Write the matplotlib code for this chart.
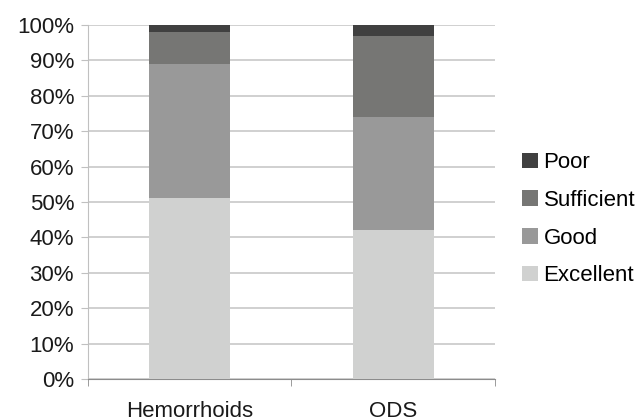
import matplotlib
matplotlib.use("Agg")
import matplotlib.pyplot as plt
from matplotlib.patches import Patch

categories = ["Hemorrhoids", "ODS"]
series_names = ["Excellent", "Good", "Sufficient", "Poor"]
excellent = [51, 42]
good = [38, 32]
sufficient = [9, 23]
poor = [2, 3]
y_ticks = [0, 10, 20, 30, 40, 50, 60, 70, 80, 90, 100]
colors = ["#d0d1d0", "#999999", "#767674", "#404040"]

plt.rcParams['font.family'] = ['Liberation Sans', 'DejaVu Sans']
FS = 16

fig = plt.figure(figsize=(6.44, 4.2), dpi=100)
ax = fig.add_axes([0.1366, 0.0976, 0.632, 0.843])

x = list(range(len(categories)))
bottom = [0, 0]
for name, vals, c in zip(series_names, [excellent, good, sufficient, poor], colors):
    ax.bar(x, vals, width=0.40, bottom=bottom, color=c, label=name, zorder=3)
    bottom = [b + v for b, v in zip(bottom, vals)]

ax.set_xlim(-0.5, 1.5)
ax.set_ylim(0, 100)
ax.set_yticks(y_ticks)
ax.set_yticklabels([f"{t}%" for t in y_ticks], fontsize=FS, color="#1a1a1a")
ax.set_xticks(x)
ax.set_xticklabels(categories, fontsize=FS, color="#1a1a1a")
ax.set_xticks([-0.5, 0.5, 1.5], minor=True)
ax.tick_params(axis='x', which='major', length=0, pad=15.5)
ax.tick_params(axis='x', which='minor', length=5, color="#8c8c8c")
ax.tick_params(axis='y', length=5, color="#c0c0c0", pad=5)

ax.yaxis.grid(True, color="#c8c8c8", linewidth=1.2, zorder=0)
for s in ['top', 'right']:
    ax.spines[s].set_visible(False)
ax.spines['left'].set_color("#c0c0c0")
ax.spines['bottom'].set_color("#8c8c8c")

handles = [Patch(facecolor=c, label=n) for n, c in zip(series_names, colors)][::-1]
fig.legend(handles=handles, loc='center left', bbox_to_anchor=(0.8106, 0.478),
           frameon=False, fontsize=FS, handlelength=0.72, handleheight=0.72,
           handletextpad=0.25, labelspacing=0.75, borderpad=0, borderaxespad=0)

fig.savefig("out.png", dpi=100)
